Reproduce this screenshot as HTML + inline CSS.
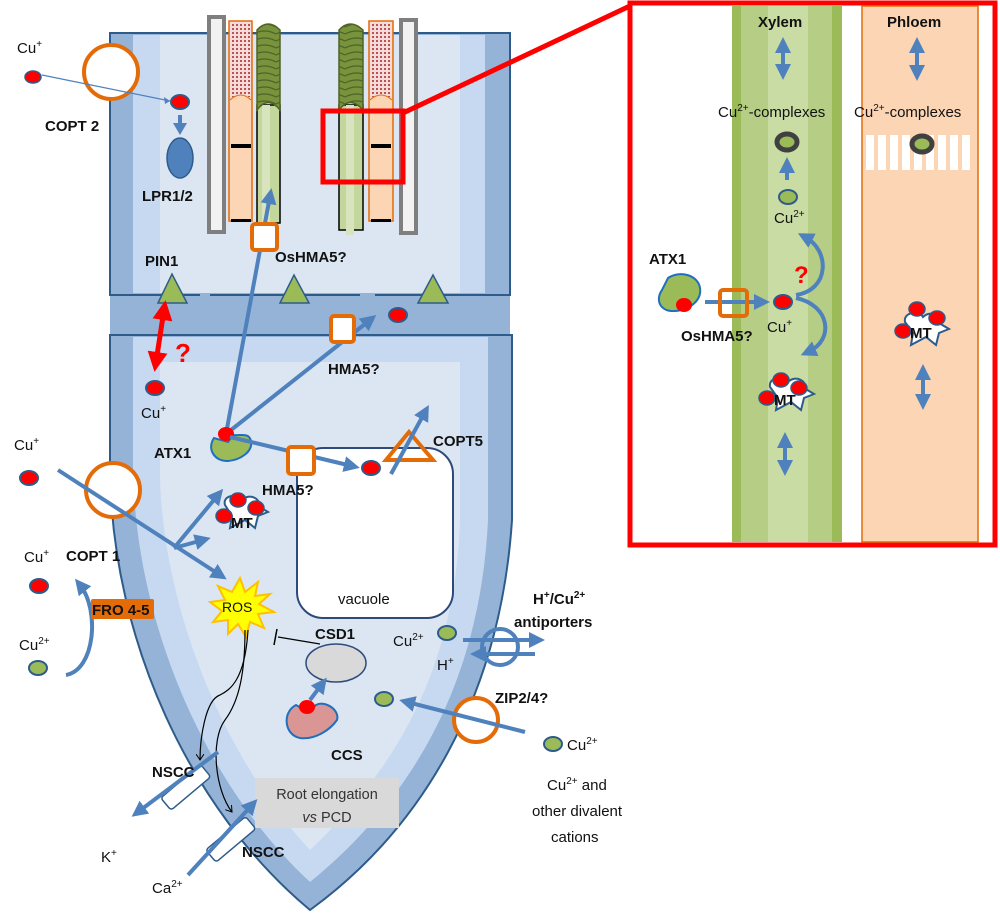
<!DOCTYPE html>
<html><head><meta charset="utf-8"><style>
html,body{margin:0;padding:0;background:#fff;}
svg{display:block;font-family:"Liberation Sans",sans-serif;}
.b{font-weight:bold;font-size:15px;fill:#111;}
.t{font-size:15px;fill:#111;}
</style></head><body>
<svg width="1000" height="913" viewBox="0 0 1000 913" xmlns="http://www.w3.org/2000/svg">
<defs>
<marker id="ah" markerWidth="4" markerHeight="4" refX="2" refY="2" orient="auto" markerUnits="strokeWidth"><path d="M0,0 L4,2 L0,4 Z" fill="#4f81bd"/></marker>
<marker id="ahs" markerWidth="4" markerHeight="4" refX="2" refY="2" orient="auto-start-reverse" markerUnits="strokeWidth"><path d="M0,0 L4,2 L0,4 Z" fill="#4f81bd"/></marker>
<marker id="ahr" markerWidth="4" markerHeight="4" refX="2" refY="2" orient="auto-start-reverse" markerUnits="strokeWidth"><path d="M0,0 L4,2 L0,4 Z" fill="#ff0000"/></marker>
<marker id="ahk" markerWidth="8" markerHeight="8" refX="6" refY="4" orient="auto" markerUnits="userSpaceOnUse"><path d="M0,0 L6,4 L0,8" fill="none" stroke="#000" stroke-width="1"/></marker>
<pattern id="dots" width="4" height="4" patternUnits="userSpaceOnUse"><rect width="4" height="4" fill="#f2dcdb"/><rect width="2" height="2" fill="#c0504d"/></pattern>
<pattern id="rings" width="23" height="7" patternUnits="userSpaceOnUse"><rect width="23" height="7" fill="#77933c"/><path d="M0,6 Q11.5,0 23,6" fill="none" stroke="#4f6228" stroke-width="1.2"/></pattern>
</defs>

<rect x="110" y="33" width="400" height="262" fill="#95b3d7" stroke="#2e5c8a" stroke-width="2"/>
<rect x="133" y="35" width="352" height="258" fill="#c6d9f1"/>
<rect x="160" y="35" width="300" height="258" fill="#dce6f2"/>
<rect x="110" y="295" width="400" height="40" fill="#95b3d7"/>
<line x1="110" y1="295" x2="510" y2="295" stroke="#2e5c8a" stroke-width="2"/>
<line x1="110" y1="335" x2="510" y2="335" stroke="#2e5c8a" stroke-width="2"/>
<line x1="200" y1="295" x2="210" y2="295" stroke="#95b3d7" stroke-width="3"/>
<line x1="360" y1="295" x2="375" y2="295" stroke="#95b3d7" stroke-width="3"/>
<line x1="200" y1="335" x2="210" y2="335" stroke="#95b3d7" stroke-width="3"/>
<line x1="360" y1="335" x2="375" y2="335" stroke="#95b3d7" stroke-width="3"/>

<path d="M110,335 L110,470 C112,640 190,810 310,910 C420,830 500,700 512,520 L512,335 Z" fill="#95b3d7" stroke="#2e5c8a" stroke-width="2"/>
<path d="M133,337 L133,470 C136,630 210,790 310,882 C405,805 480,690 488,520 L488,337 Z" fill="#c6d9f1"/>
<path d="M160,362 L160,480 C165,620 230,765 310,850 C395,770 455,670 460,520 L460,362 Z" fill="#dce6f2"/>

<rect x="209" y="17" width="15" height="215" fill="#f2f2f2" stroke="#7f7f7f" stroke-width="4"/>
<rect x="229" y="21" width="23" height="200" fill="#fcd5b5" stroke="#e36c09" stroke-width="1.5"/>
<rect x="230" y="22" width="21" height="75" fill="url(#dots)"/>
<path d="M230,100 Q241,90 251,100" fill="#fcd5b5" stroke="#e36c09" stroke-width="1"/>
<rect x="231" y="144" width="20" height="4" fill="#000"/>
<rect x="231" y="219" width="20" height="3" fill="#000"/>
<rect x="257" y="105" width="23" height="118" fill="#c3d69b" stroke="#000" stroke-width="1.5"/>
<rect x="262" y="105" width="8" height="118" fill="#d7e4bd"/>
<path d="M257,110 L257,30 Q268,18 280,30 L280,110 Q268,95 257,110 Z" fill="url(#rings)" stroke="#4f6228" stroke-width="1.5"/>

<rect x="339" y="105" width="24" height="125" fill="#c3d69b" stroke="#000" stroke-width="1.5"/>
<rect x="346" y="105" width="8" height="130" fill="#d7e4bd"/>
<path d="M339,110 L339,30 Q350,18 363,30 L363,110 Q350,95 339,110 Z" fill="url(#rings)" stroke="#4f6228" stroke-width="1.5"/>
<rect x="369" y="21" width="24" height="200" fill="#fcd5b5" stroke="#e36c09" stroke-width="1.5"/>
<rect x="370" y="22" width="22" height="75" fill="url(#dots)"/>
<path d="M370,100 Q381,90 392,100" fill="#fcd5b5" stroke="#e36c09" stroke-width="1"/>
<rect x="371" y="144" width="20" height="4" fill="#000"/>
<rect x="371" y="219" width="20" height="3" fill="#000"/>
<rect x="401" y="20" width="15" height="213" fill="#f2f2f2" stroke="#7f7f7f" stroke-width="4"/>

<rect x="323" y="111" width="80" height="71" fill="none" stroke="#ff0000" stroke-width="5"/>
<line x1="403" y1="113" x2="632" y2="5" stroke="#ff0000" stroke-width="5"/>

<text x="17" y="53" class="t">Cu<tspan font-size="10" dy="-6">+</tspan></text>
<ellipse cx="33" cy="77" rx="8" ry="6" fill="#ff0000" stroke="#2e5c8a" stroke-width="1.5"/>
<circle cx="111" cy="72" r="27" fill="#fff" stroke="#e36c09" stroke-width="4"/>
<line x1="42" y1="75" x2="170" y2="101" stroke="#4f81bd" stroke-width="1.2"/>
<path d="M170,101 L164,97 L165,104 Z" fill="#4f81bd"/>
<text x="45" y="131" class="b">COPT 2</text>
<ellipse cx="180" cy="102" rx="9" ry="7" fill="#ff0000" stroke="#2e5c8a" stroke-width="2"/>
<line x1="180" y1="115" x2="180" y2="124" stroke="#4f81bd" stroke-width="4"/>
<path d="M173,123 L187,123 L180,135 Z" fill="#4f81bd"/>
<ellipse cx="180" cy="158" rx="13" ry="20" fill="#4f81bd" stroke="#2e5c8a" stroke-width="1.5"/>
<text x="142" y="201" class="b">LPR1/2</text>

<text x="145" y="266" class="b">PIN1</text>
<path d="M158,303 L172,274 L187,303 Z" fill="#9bbb59" stroke="#2e5c8a" stroke-width="1.5"/>
<path d="M280,303 L294,275 L309,303 Z" fill="#9bbb59" stroke="#2e5c8a" stroke-width="1.5"/>
<path d="M418,303 L433,275 L448,303 Z" fill="#9bbb59" stroke="#2e5c8a" stroke-width="1.5"/>

<line x1="164" y1="310" x2="156" y2="362" stroke="#ff0000" stroke-width="5" marker-start="url(#ahr)" marker-end="url(#ahr)"/>
<text x="175" y="362" font-size="26" font-weight="bold" fill="#ff0000">?</text>
<ellipse cx="155" cy="388" rx="9" ry="7" fill="#ff0000" stroke="#2e5c8a" stroke-width="2"/>
<text x="141" y="418" class="t">Cu<tspan font-size="10" dy="-6">+</tspan></text>

<line x1="226" y1="434" x2="270" y2="196" stroke="#4f81bd" stroke-width="4" marker-end="url(#ah)"/>
<rect x="252" y="224" width="25" height="26" rx="3" fill="#fff" stroke="#e36c09" stroke-width="4"/>
<text x="275" y="262" class="b">OsHMA5?</text>

<line x1="226" y1="434" x2="370" y2="320" stroke="#4f81bd" stroke-width="4" marker-end="url(#ah)"/>
<rect x="331" y="316" width="23" height="26" rx="3" fill="#fff" stroke="#e36c09" stroke-width="4"/>
<ellipse cx="398" cy="315" rx="9" ry="7" fill="#ff0000" stroke="#2e5c8a" stroke-width="2"/>
<text x="328" y="374" class="b">HMA5?</text>

<rect x="297" y="448" width="156" height="170" rx="26" fill="#fff" stroke="#2e4a7a" stroke-width="2"/>
<text x="338" y="604" class="t">vacuole</text>

<text x="154" y="458" class="b">ATX1</text>
<path d="M214,438 C206,450 216,462 228,461 C240,460 253,452 251,441 C249,432 240,436 233,435 L228,442 Z" fill="#9bbb59" stroke="#1f6fbf" stroke-width="2"/>
<ellipse cx="226" cy="434" rx="8" ry="7" fill="#ff0000"/>
<line x1="230" y1="437" x2="352" y2="466" stroke="#4f81bd" stroke-width="4" marker-end="url(#ah)"/>
<rect x="288" y="447" width="26" height="27" rx="3" fill="#fff" stroke="#e36c09" stroke-width="4"/>
<text x="262" y="495" class="b">HMA5?</text>
<ellipse cx="371" cy="468" rx="9" ry="7" fill="#ff0000" stroke="#2e5c8a" stroke-width="2"/>
<path d="M386,460 L433,460 L409,432 Z" fill="none" stroke="#e36c09" stroke-width="4"/>
<line x1="391" y1="474" x2="425" y2="412" stroke="#4f81bd" stroke-width="4" marker-end="url(#ah)"/>
<text x="433" y="446" class="b">COPT5</text>

<text x="14" y="450" class="t">Cu<tspan font-size="10" dy="-6">+</tspan></text>
<ellipse cx="29" cy="478" rx="9" ry="7" fill="#ff0000" stroke="#2e5c8a" stroke-width="2"/>
<circle cx="113" cy="490" r="27" fill="#fff" stroke="#e36c09" stroke-width="4"/>
<line x1="58" y1="470" x2="220" y2="575" stroke="#4f81bd" stroke-width="4" marker-end="url(#ah)"/>
<line x1="174" y1="548" x2="218" y2="495" stroke="#4f81bd" stroke-width="4" marker-end="url(#ah)"/>
<line x1="174" y1="548" x2="203" y2="540" stroke="#4f81bd" stroke-width="4" marker-end="url(#ah)"/>
<text x="66" y="561" class="b">COPT 1</text>
<path d="M225,505 C222,495 238,493 242,500 C250,492 262,500 258,506 L268,512 L258,516 L255,528 L245,520 L230,528 L232,516 Z" fill="#fff" stroke="#2e5c8a" stroke-width="2"/>
<ellipse cx="238" cy="500" rx="8" ry="7" fill="#ff0000" stroke="#2e5c8a" stroke-width="1.5"/>
<ellipse cx="256" cy="508" rx="8" ry="7" fill="#ff0000" stroke="#2e5c8a" stroke-width="1.5"/>
<ellipse cx="224" cy="516" rx="8" ry="7" fill="#ff0000" stroke="#2e5c8a" stroke-width="1.5"/>
<text x="231" y="528" class="b">MT</text>

<text x="24" y="562" class="t">Cu<tspan font-size="10" dy="-6">+</tspan></text>
<ellipse cx="39" cy="586" rx="9" ry="7" fill="#ff0000" stroke="#2e5c8a" stroke-width="2"/>
<path d="M66,675 C95,670 100,610 80,585" fill="none" stroke="#4f81bd" stroke-width="4" marker-end="url(#ah)"/>
<rect x="91" y="599" width="63" height="20" rx="2" fill="#e36c09"/>
<text x="92" y="615" class="b">FRO 4-5</text>
<text x="19" y="650" class="t">Cu<tspan font-size="10" dy="-6">2+</tspan></text>
<ellipse cx="38" cy="668" rx="9" ry="7" fill="#9bbb59" stroke="#2e5c8a" stroke-width="2"/>

<path d="M240,578 L245,592 L258,582 L255,596 L270,594 L259,604 L274,612 L258,614 L264,628 L250,622 L246,637 L238,624 L228,634 L228,620 L213,622 L222,611 L210,602 L225,600 L218,586 L232,592 Z" fill="#ffff00" stroke="#ffc000" stroke-width="2"/>
<text x="222" y="612" font-size="14" fill="#111">ROS</text>
<line x1="320" y1="644" x2="278" y2="637" stroke="#000" stroke-width="1.2"/>
<line x1="277" y1="629" x2="274" y2="645" stroke="#000" stroke-width="1.5"/>
<text x="315" y="639" class="b">CSD1</text>
<ellipse cx="336" cy="663" rx="30" ry="19" fill="#d9d9d9" stroke="#2e4a7a" stroke-width="1.5"/>
<path d="M296,705 C282,712 284,735 300,738 C315,740 330,730 337,720 C340,710 325,700 316,705 L308,712 Z" fill="#da9694" stroke="#1f6fbf" stroke-width="2"/>
<ellipse cx="307" cy="707" rx="8" ry="7" fill="#ff0000"/>
<line x1="310" y1="700" x2="322" y2="684" stroke="#4f81bd" stroke-width="4" marker-end="url(#ah)"/>
<text x="331" y="760" class="b">CCS</text>

<path d="M248,630 C245,680 230,690 220,695 C205,700 200,740 200,760" fill="none" stroke="#000" stroke-width="1.2" marker-end="url(#ahk)"/>
<path d="M245,630 C245,670 240,700 225,720 C210,740 215,790 232,812" fill="none" stroke="#000" stroke-width="1.2" marker-end="url(#ahk)"/>

<rect x="255" y="778" width="144" height="50" fill="#d9d9d9"/>
<text x="327" y="799" font-size="14.5" fill="#333" text-anchor="middle">Root elongation</text>
<text x="327" y="822" font-size="14.5" fill="#333" text-anchor="middle"><tspan font-style="italic">vs</tspan> PCD</text>

<g transform="rotate(-40 185 788)"><rect x="160" y="780" width="52" height="16" rx="3" fill="#fff" stroke="#2e5c8a" stroke-width="1.5"/></g>
<line x1="218" y1="752" x2="138" y2="812" stroke="#4f81bd" stroke-width="4" marker-end="url(#ah)"/>
<text x="152" y="777" class="b">NSCC</text>
<text x="101" y="862" class="t">K<tspan font-size="10" dy="-6">+</tspan></text>
<g transform="rotate(-40 230 840)"><rect x="205" y="832" width="52" height="16" rx="3" fill="#fff" stroke="#2e5c8a" stroke-width="1.5"/></g>
<line x1="188" y1="875" x2="252" y2="805" stroke="#4f81bd" stroke-width="4" marker-end="url(#ah)"/>
<text x="242" y="857" class="b">NSCC</text>
<text x="152" y="893" class="t">Ca<tspan font-size="10" dy="-6">2+</tspan></text>

<text x="393" y="646" class="t">Cu<tspan font-size="10" dy="-6">2+</tspan></text>
<ellipse cx="447" cy="633" rx="9" ry="7" fill="#9bbb59" stroke="#2e5c8a" stroke-width="2"/>
<text x="437" y="670" class="t">H<tspan font-size="10" dy="-6">+</tspan></text>
<circle cx="500" cy="647" r="18" fill="none" stroke="#4f81bd" stroke-width="4"/>
<line x1="463" y1="640" x2="537" y2="640" stroke="#4f81bd" stroke-width="4" marker-end="url(#ah)"/>
<line x1="535" y1="654" x2="478" y2="654" stroke="#4f81bd" stroke-width="4" marker-end="url(#ah)"/>
<text x="533" y="604" class="b">H<tspan font-size="10" dy="-6">+</tspan><tspan dy="6">/Cu</tspan><tspan font-size="10" dy="-6">2+</tspan></text>
<text x="514" y="627" class="b">antiporters</text>

<text x="495" y="703" class="b">ZIP2/4?</text>
<circle cx="476" cy="720" r="22" fill="#fff" stroke="#e36c09" stroke-width="4"/>
<line x1="525" y1="732" x2="407" y2="702" stroke="#4f81bd" stroke-width="4" marker-end="url(#ah)"/>
<ellipse cx="384" cy="699" rx="9" ry="7" fill="#9bbb59" stroke="#2e5c8a" stroke-width="2"/>
<ellipse cx="553" cy="744" rx="9" ry="7" fill="#9bbb59" stroke="#2e5c8a" stroke-width="2"/>
<text x="567" y="750" class="t">Cu<tspan font-size="10" dy="-6">2+</tspan></text>
<text x="547" y="790" class="t">Cu<tspan font-size="10" dy="-6">2+</tspan><tspan dy="6"> and</tspan></text>
<text x="532" y="816" class="t">other divalent</text>
<text x="551" y="842" class="t">cations</text>

<rect x="630" y="3" width="365" height="542" fill="#fff" stroke="#ff0000" stroke-width="5"/>
<rect x="732" y="6" width="110" height="536" fill="#9bbb59"/>
<rect x="741" y="6" width="91" height="536" fill="#b5cd85"/>
<rect x="768" y="6" width="40" height="536" fill="#c9dca4"/>
<rect x="862" y="6" width="116" height="536" fill="#fcd5b5" stroke="#e36c09" stroke-width="1.5"/>
<text x="758" y="27" class="b" font-size="16">Xylem</text>
<text x="887" y="27" class="b" font-size="16">Phloem</text>
<line x1="783" y1="45" x2="783" y2="72" stroke="#4f81bd" stroke-width="4" marker-start="url(#ahs)" marker-end="url(#ahs)"/>
<line x1="917" y1="45" x2="917" y2="73" stroke="#4f81bd" stroke-width="4" marker-start="url(#ahs)" marker-end="url(#ahs)"/>
<text x="718" y="117" class="t" font-size="15.5">Cu<tspan font-size="10" dy="-6">2+</tspan><tspan dy="6">-complexes</tspan></text>
<text x="854" y="117" class="t" font-size="15.5">Cu<tspan font-size="10" dy="-6">2+</tspan><tspan dy="6">-complexes</tspan></text>
<g fill="#fff">
<rect x="866" y="135" width="8" height="35"/><rect x="878" y="135" width="8" height="35"/><rect x="890" y="135" width="8" height="35"/><rect x="902" y="135" width="8" height="35"/><rect x="914" y="135" width="8" height="35"/><rect x="926" y="135" width="8" height="35"/><rect x="938" y="135" width="8" height="35"/><rect x="950" y="135" width="8" height="35"/><rect x="962" y="135" width="8" height="35"/>
</g>
<ellipse cx="787" cy="142" rx="10" ry="8" fill="#9bbb59" stroke="#404040" stroke-width="5"/>
<ellipse cx="922" cy="144" rx="10" ry="8" fill="#9bbb59" stroke="#404040" stroke-width="5"/>
<line x1="787" y1="180" x2="787" y2="165" stroke="#4f81bd" stroke-width="4" marker-end="url(#ah)"/>
<ellipse cx="788" cy="197" rx="9" ry="7" fill="#9bbb59" stroke="#2e5c8a" stroke-width="2"/>
<text x="774" y="223" class="t">Cu<tspan font-size="10" dy="-6">2+</tspan></text>
<path d="M796,295 C830,290 830,250 805,237" fill="none" stroke="#4f81bd" stroke-width="4" marker-end="url(#ah)"/>
<path d="M796,298 C830,305 835,340 808,352" fill="none" stroke="#4f81bd" stroke-width="4" marker-end="url(#ah)"/>
<text x="794" y="283" font-size="24" font-weight="bold" fill="#ff0000">?</text>
<text x="649" y="264" class="b" font-size="16">ATX1</text>
<path d="M662,290 C655,300 660,312 675,311 C690,310 702,300 700,288 C698,275 680,270 668,278 Z" fill="#9bbb59" stroke="#1f6fbf" stroke-width="2"/>
<ellipse cx="684" cy="305" rx="8" ry="7" fill="#ff0000"/>
<line x1="705" y1="302" x2="762" y2="302" stroke="#4f81bd" stroke-width="4" marker-end="url(#ah)"/>
<rect x="720" y="290" width="27" height="26" rx="3" fill="none" stroke="#e36c09" stroke-width="4"/>
<text x="681" y="341" class="b" font-size="16">OsHMA5?</text>
<ellipse cx="783" cy="302" rx="9" ry="7" fill="#ff0000" stroke="#2e5c8a" stroke-width="2"/>
<text x="767" y="332" class="t">Cu<tspan font-size="10" dy="-6">+</tspan></text>
<path d="M770,387 C768,377 784,375 788,382 C796,374 808,382 804,388 L814,394 L804,398 L801,410 L791,402 L776,410 L778,398 Z" fill="#fff" stroke="#2e5c8a" stroke-width="2"/>
<ellipse cx="781" cy="380" rx="8" ry="7" fill="#ff0000" stroke="#2e5c8a" stroke-width="1.5"/>
<ellipse cx="799" cy="388" rx="8" ry="7" fill="#ff0000" stroke="#2e5c8a" stroke-width="1.5"/>
<ellipse cx="767" cy="398" rx="8" ry="7" fill="#ff0000" stroke="#2e5c8a" stroke-width="1.5"/>
<text x="774" y="405" class="b" font-size="17">MT</text>
<line x1="785" y1="440" x2="785" y2="468" stroke="#4f81bd" stroke-width="4" marker-start="url(#ahs)" marker-end="url(#ahs)"/>
<path d="M905,322 C903,312 919,310 923,317 C931,309 943,317 939,323 L949,329 L939,333 L936,345 L926,337 L911,345 L913,333 Z" fill="#fff" stroke="#2e5c8a" stroke-width="2"/>
<ellipse cx="917" cy="309" rx="8" ry="7" fill="#ff0000" stroke="#2e5c8a" stroke-width="1.5"/>
<ellipse cx="937" cy="318" rx="8" ry="7" fill="#ff0000" stroke="#2e5c8a" stroke-width="1.5"/>
<ellipse cx="903" cy="331" rx="8" ry="7" fill="#ff0000" stroke="#2e5c8a" stroke-width="1.5"/>
<text x="910" y="338" class="b" font-size="17">MT</text>
<line x1="923" y1="372" x2="923" y2="402" stroke="#4f81bd" stroke-width="4" marker-start="url(#ahs)" marker-end="url(#ahs)"/>
</svg>
</body></html>
